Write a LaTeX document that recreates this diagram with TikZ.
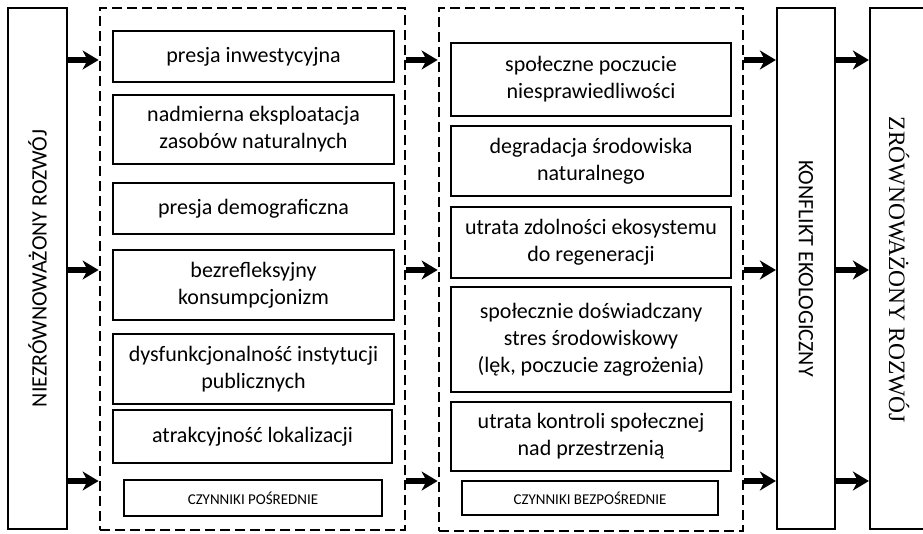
\documentclass[tikz,border=0pt]{standalone}
\usepackage{fontspec}
\setmainfont{Carlito}
\newfontfamily\serifrm{Liberation Serif}
\usetikzlibrary{arrows.meta,positioning}

\begin{document}
\begin{tikzpicture}[
  x=1pt, y=-1pt,
  font=\fontsize{22}{27}\selectfont,
  factor/.style={rectangle, draw=black, line width=2.2pt, inner sep=0pt, align=flush center},
  tag/.style={factor, font=\fontsize{15}{18}\selectfont},
  frame/.style={rectangle, draw=black, line width=2.8pt, dash pattern=on 10pt off 5pt, inner sep=0pt},
  pillar/.style={rectangle, draw=black, line width=2.2pt, inner sep=0pt, minimum width=59pt, minimum height=521pt},
  arr/.style={-{Stealth[length=16pt, width=19pt, inset=5pt]}, line width=5.5pt}
]
\useasboundingbox (0,0) rectangle (923,534);
\clip (0,0) rectangle (923,534);

% outer columns
\node[pillar] (niezr) at (37.5,268.5) {};
\node[rotate=90] (niezr-txt) at (niezr.center) {NIEZRÓWNOWAŻONY ROZWÓJ};
\node[pillar, minimum width=58pt] (konflikt) at (806,268.5) {};
\node[rotate=-90] (konflikt-txt) at (konflikt.center) {KONFLIKT EKOLOGICZNY};
\node[pillar, minimum width=62pt] (zrown) at (901,268.5) {};
\node[rotate=-90, font=\fontsize{23.5}{28}\serifrm] (zrown-txt) at (899,270) {ZRÓWNOWAŻONY ROZWÓJ};

% dashed groups
\node[frame, minimum width=305pt, minimum height=522pt] (posr) at (252.5,269) {};
\node[frame, minimum width=304pt, minimum height=523pt] (bezp) at (591,269.5) {};

% indirect factors
\node[factor, minimum width=281pt, minimum height=51pt, text width=275pt] (p1) at (253.5,56.5) {presja inwestycyjna};
\node[factor, minimum width=281pt, minimum height=69pt, text width=275pt] (p2) at (253.5,129.5) {nadmierna eksploatacja\\zasobów naturalnych};
\node[factor, minimum width=281pt, minimum height=51pt, text width=275pt] (p3) at (253.5,208.5) {presja demograficzna};
\node[factor, minimum width=281pt, minimum height=70pt, text width=275pt] (p4) at (253.5,285) {bezrefleksyjny\\konsumpcjonizm};
\node[factor, minimum width=281pt, minimum height=70pt, text width=275pt] (p5) at (253.5,369) {dysfunkcjonalność instytucji\\publicznych};
\node[factor, minimum width=279pt, minimum height=53pt, text width=273pt] (p6) at (252.5,436.5) {atrakcyjność lokalizacji};
\node[tag, minimum width=258pt, minimum height=36pt, text width=252pt] (posr-tag) at (253,498) {CZYNNIKI POŚREDNIE};

% direct factors
\node[factor, minimum width=280pt, minimum height=73pt, text width=274pt] (b1) at (591,79.5) {społeczne poczucie\\niesprawiedliwości};
\node[factor, minimum width=280pt, minimum height=70pt, text width=274pt] (b2) at (591,161) {degradacja środowiska\\naturalnego};
\node[factor, minimum width=280pt, minimum height=71pt, text width=274pt] (b3) at (591,242.5) {utrata zdolności ekosystemu\\do regeneracji};
\node[factor, minimum width=280pt, minimum height=105pt, text width=274pt] (b4) at (591,339.5) {społecznie doświadczany\\stres środowiskowy\\(lęk, poczucie zagrożenia)};
\node[factor, minimum width=280pt, minimum height=69pt, text width=274pt] (b5) at (591,436.5) {utrata kontroli społecznej\\nad przestrzenią};
\node[tag, minimum width=256pt, minimum height=34pt, text width=250pt] (bezp-tag) at (590,498) {CZYNNIKI BEZPOŚREDNIE};

% arrows
\coordinate (r1) at (0,60);
\coordinate (r2) at (0,270);
\coordinate (r3) at (0,481);
\foreach \r in {r1,r2,r3} {
  \draw[arr] (niezr.east |- \r) -- (posr.west |- \r);
  \draw[arr] (posr.east |- \r) -- (bezp.west |- \r);
  \draw[arr] (bezp.east |- \r) -- (konflikt.west |- \r);
  \draw[arr] (konflikt.east |- \r) -- (zrown.west |- \r);
}

\end{tikzpicture}
\end{document}
